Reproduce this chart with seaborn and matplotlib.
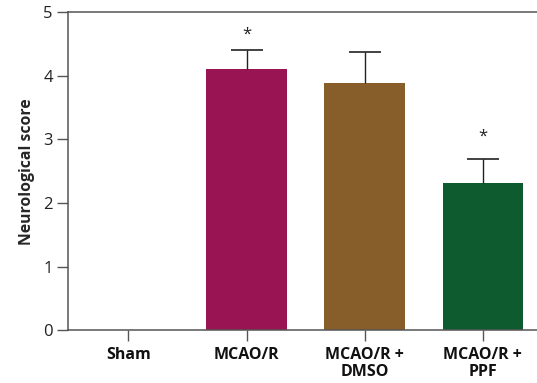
import matplotlib
matplotlib.use("Agg")
import matplotlib.pyplot as plt
import seaborn as sns
import pandas as pd
import numpy as np

categories = ["Sham", "MCAO/R", "MCAO/R +\nDMSO", "MCAO/R +\nPPF"]
scores = [0.0, 4.1, 3.88, 2.32]
errors = [0.0, 0.3, 0.5, 0.37]
star_heights = [None, 4.65, None, 3.04]
colors = ["#ffffff", "#981452", "#875e29", "#0e5b30"]

sns.set_theme(style="white")
plt.rcParams["font.family"] = ["Open Sans", "DejaVu Sans"]

df = pd.DataFrame({"group": categories, "score": scores})

fig = plt.figure(figsize=(5.37, 3.83), dpi=100)
ax = fig.add_axes([0.127, 0.138, 0.873, 0.83])

sns.barplot(data=df, x="group", y="score", hue="group", palette=colors,
            legend=False, width=0.68, ax=ax, saturation=1, linewidth=0)

spine_col = "#555555"
for i, (v, e) in enumerate(zip(scores, errors)):
    if e > 0:
        _, caps, _ = ax.errorbar(i, v, yerr=[[0], [e]], fmt="none", ecolor="#222222",
                                 elinewidth=1.0, capsize=11.5, capthick=1.2, zorder=3)
        for c in caps:
            if np.allclose(c.get_ydata(), v):
                c.set_visible(False)
    if star_heights[i] is not None:
        ax.text(i, star_heights[i], "*", ha="center", va="center", fontsize=12,
                color="#222222")

ax.set_ylim(0, 5)
ax.set_xlim(-0.51, 3.46)
ax.set_yticks([0, 1, 2, 3, 4, 5])
ax.set_xlabel("")
ax.set_ylabel("Neurological score", fontsize=11.3, fontweight="bold", labelpad=6)
for s in ["left", "bottom", "top"]:
    ax.spines[s].set_visible(True)
    ax.spines[s].set_color(spine_col)
    ax.spines[s].set_linewidth(1.1)
ax.spines["right"].set_visible(False)
ax.tick_params(axis="both", which="both", direction="out", length=8, width=1.0,
               color=spine_col, left=True, bottom=True)
ax.tick_params(axis="y", labelsize=12, labelcolor="#222222", pad=3)
ax.tick_params(axis="x", labelsize=11.5, labelcolor="#111111", pad=4)
for lab in ax.get_xticklabels():
    lab.set_fontweight("bold")
    lab.set_linespacing(1.1)

fig.savefig("out.png", dpi=100)
